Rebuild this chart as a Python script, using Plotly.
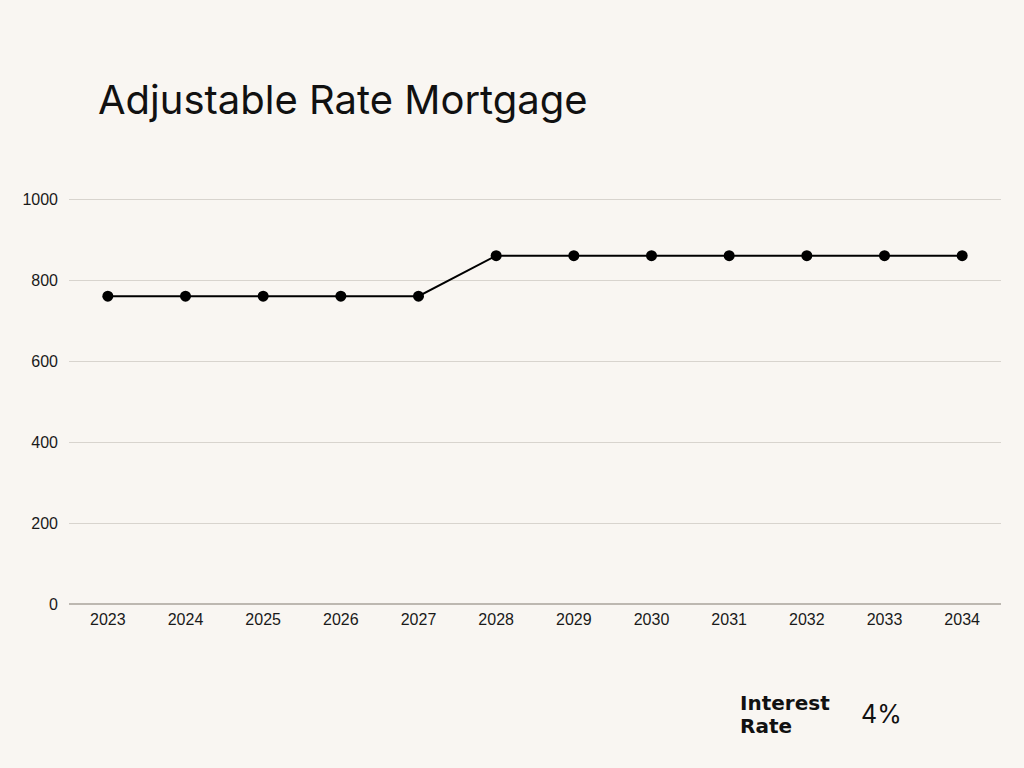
import plotly.graph_objects as go

years = ["2023", "2024", "2025", "2026", "2027", "2028", "2029", "2030", "2031", "2032", "2033", "2034"]
payments = [760, 760, 760, 760, 760, 860, 860, 860, 860, 860, 860, 860]
y_ticks = [0, 200, 400, 600, 800, 1000]

bg = "#f9f6f2"
font_fam = "Inter, Liberation Sans, Arial, sans-serif"
tick_fam = "Liberation Sans, Arial, sans-serif"

fig = go.Figure()
fig.add_trace(go.Scatter(
    x=years, y=payments, mode="lines+markers",
    line=dict(color="#000000", width=2),
    marker=dict(color="#000000", size=11),
    showlegend=False, hoverinfo="x+y",
))

fig.update_layout(
    width=1024, height=768,
    paper_bgcolor=bg, plot_bgcolor=bg,
    margin=dict(l=69, r=23, t=197, b=164),
    font=dict(family=tick_fam, color="#111111", size=14),
    title=dict(text="Adjustable Rate Mortgage", x=98/1024, xanchor="left",
               y=1 - 100/768, yanchor="middle",
               font=dict(size=40, color="#111111", family=font_fam)),
    xaxis=dict(type="category", range=[-0.5, len(years) - 0.5], showgrid=False,
               showline=False, zeroline=False, ticks="", ticklabelstandoff=4,
               tickfont=dict(size=16, color="#1a1a1a", family=tick_fam)),
    yaxis=dict(range=[0, 1005], tickvals=y_ticks, showgrid=True, gridcolor="#d8d4ce",
               gridwidth=1, zeroline=True, zerolinecolor="#bdb8b1", zerolinewidth=2,
               ticks="", tickfont=dict(size=16, color="#1a1a1a", family=tick_fam),
               ticklabelstandoff=10, showline=False),
    annotations=[
        dict(text="<b>Interest</b>", xref="paper", yref="paper",
             x=(738 - 69) / 932, y=-(703 - 604) / 407, xanchor="left", yanchor="middle",
             showarrow=False, align="left",
             font=dict(size=20, color="#111111", family="DejaVu Sans, sans-serif")),
        dict(text="<b>Rate</b>", xref="paper", yref="paper",
             x=(738 - 69) / 932, y=-(726 - 604) / 407, xanchor="left", yanchor="middle",
             showarrow=False, align="left",
             font=dict(size=20, color="#111111", family="DejaVu Sans, sans-serif")),
        dict(text="4%", xref="paper", yref="paper",
             x=(859 - 69) / 932, y=-(714 - 604) / 407, xanchor="left", yanchor="middle",
             showarrow=False, font=dict(size=25, color="#111111", family=font_fam)),
    ],
)

fig.write_html("out.html", config={"displayModeBar": False},
               post_script="document.body.style.margin='0';document.body.style.background='%s';" % bg)
